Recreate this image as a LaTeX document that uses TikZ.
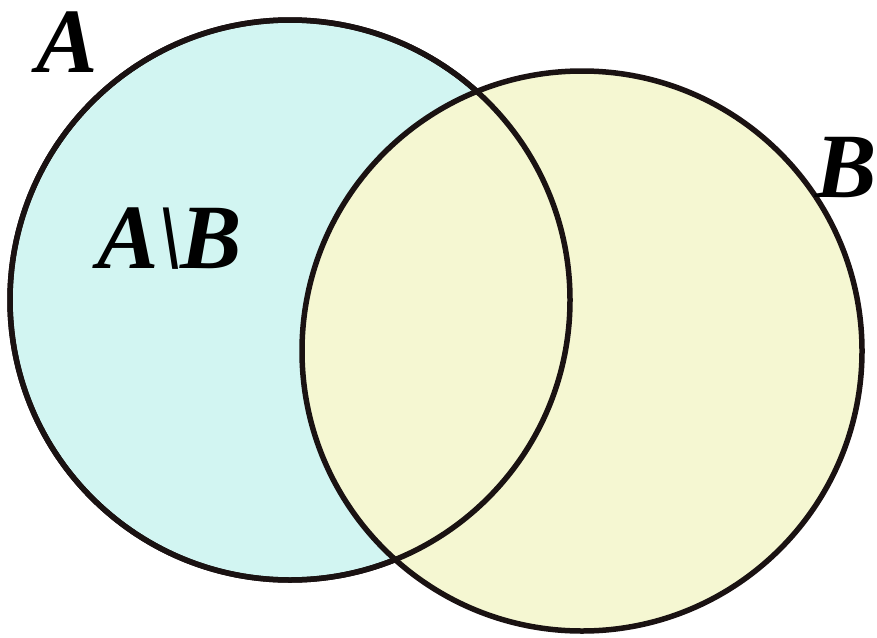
\documentclass[tikz,border=0pt]{standalone}
\usepackage{fontspec}
\setmainfont{Liberation Serif}
\definecolor{setA}{HTML}{D2F5F2}
\definecolor{setB}{HTML}{F5F7D2}
\definecolor{ink}{HTML}{1A1212}
\begin{document}
\begin{tikzpicture}[x=1pt,y=-1pt,
  setline/.style={draw=ink, line width=5.5pt},
  lbl/.style={font=\fontsize{92}{92}\selectfont\bfseries\itshape, anchor=base,
    inner sep=0pt, text height=62pt, text depth=0pt}]
\useasboundingbox (0,0) rectangle (877,637);
\coordinate (A) at (290,300);
\coordinate (B) at (582,351);
\fill[setA] (A) circle[radius=280pt];
\draw[setline] (A) circle[radius=280pt];
\fill[setB] (B) circle[radius=280pt];
\draw[setline] (B) circle[radius=280pt];
\draw[setline] (A) circle[radius=280pt];
\node[lbl] (la) at (67,72) {A};
\node[lbl] (lb) at (846,197) {B};
\node[lbl] (lab) at (170,268) {A\kern-2pt\textbackslash\kern-2pt B};
\end{tikzpicture}
\end{document}
